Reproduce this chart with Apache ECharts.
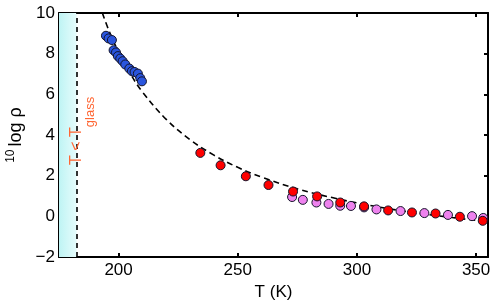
<!DOCTYPE html>
<html><head><meta charset="utf-8">
<script src="https://cdn.jsdelivr.net/npm/echarts@6/dist/echarts.min.js"></script>
<style>html,body{margin:0;padding:0;background:#fff}#c{width:498px;height:304px}</style>
</head><body><div id="c"></div>
<script>
// ---- data ----
const xTicks = [200, 250, 300, 350];
const yTicks = [-2, 0, 2, 4, 6, 8, 10];
const xRange = [175, 355];
const yRange = [-2, 10];
const glassT = 182.4;

const blueT = [194.7, 195.8, 197.2, 197.9, 198.9, 199.7, 200.7, 201.7, 202.8, 204.5, 205.6, 206.7, 208.1, 209.1, 209.8];
const blueV = [8.88, 8.75, 8.67, 8.17, 8.06, 7.88, 7.76, 7.63, 7.47, 7.27, 7.14, 7.10, 7.02, 6.80, 6.64];

const pinkT = [272.8, 277.3, 283.0, 288.1, 293.0, 297.5, 303.0, 308.2, 318.3, 328.3, 338.2, 348.3, 353.0];
const pinkV = [0.95, 0.81, 0.68, 0.61, 0.52, 0.51, 0.44, 0.34, 0.26, 0.16, 0.07, 0.01, -0.08];

const redT = [234.3, 242.8, 253.4, 262.9, 273.2, 283.3, 293.0, 303.0, 313.1, 323.1, 333.0, 343.2, 352.8];
const redV = [3.12, 2.51, 1.97, 1.54, 1.22, 0.98, 0.68, 0.49, 0.29, 0.19, 0.14, -0.02, -0.22];

const fitT = [193.2, 196, 200, 205, 210, 220, 230, 240, 250, 260, 275, 290, 305, 320, 340, 355];
const fitV = [10.0, 9.12, 8.08, 7.00, 6.12, 4.77, 3.77, 3.01, 2.41, 1.93, 1.35, 0.91, 0.55, 0.25, -0.06, -0.26];

// ---- chart ----
const FONT = 'Liberation Sans';
const zip = (a, b) => a.map((v, i) => [v, b[i]]);
const chart = echarts.init(document.getElementById('c'), null, {renderer: 'canvas'});

const axisLineStyle = {color: '#000', width: 2};
const tickStyle = {show: true, inside: true, length: 4, lineStyle: {color: '#000', width: 2}};
const markerStyle = c => ({color: c, borderColor: '#14142a', borderWidth: 1, opacity: 1});

chart.setOption({
  animation: false,
  backgroundColor: '#fff',
  grid: {left: 59, right: 10, top: 13, bottom: 47, show: false, containLabel: false, outerBoundsMode: 'none'},
  xAxis: [
    {type: 'value', min: xRange[0], max: xRange[1], position: 'bottom',
     axisLine: {show: true, onZero: false, lineStyle: axisLineStyle},
     axisTick: Object.assign({customValues: xTicks}, tickStyle),
     axisLabel: {customValues: xTicks, color: '#000', fontSize: 17, fontFamily: FONT, margin: 5},
     splitLine: {show: false},
     name: 'T (K)', nameLocation: 'middle', nameGap: 20,
     nameTextStyle: {color: '#000', fontSize: 17, fontFamily: FONT}},
    {type: 'value', min: xRange[0], max: xRange[1], position: 'top',
     axisLine: {show: true, onZero: false, lineStyle: axisLineStyle},
     axisTick: Object.assign({customValues: xTicks}, tickStyle),
     axisLabel: {show: false}, splitLine: {show: false}}
  ],
  yAxis: [
    {type: 'value', min: yRange[0], max: yRange[1], interval: 2, position: 'left',
     axisLine: {show: true, onZero: false, lineStyle: axisLineStyle},
     axisTick: Object.assign({customValues: yTicks}, tickStyle),
     axisLabel: {customValues: yTicks, color: '#000', fontSize: 17, fontFamily: FONT, margin: 4,
                 formatter: v => (v < 0 ? '\u2212' + Math.abs(v) : String(v))},
     splitLine: {show: false},
     name: '{sup|10}{m|log \u03c1}', nameLocation: 'middle', nameGap: 26, nameRotate: 90,
     nameTextStyle: {color: '#000', fontFamily: FONT,
       rich: {sup: {fontSize: 12, fontFamily: FONT, color: '#000', verticalAlign: 'top', padding: [0, 3, 8, 0]},
              m: {fontSize: 18, fontFamily: FONT, color: '#000', verticalAlign: 'bottom'}}}},
    {type: 'value', min: yRange[0], max: yRange[1], interval: 2, position: 'right',
     axisLine: {show: true, onZero: false, lineStyle: axisLineStyle},
     axisTick: Object.assign({customValues: yTicks}, tickStyle),
     axisLabel: {show: false}, splitLine: {show: false}}
  ],
  series: [
    {type: 'line', name: 'band', data: [],
     markArea: {silent: true, itemStyle: {color: new echarts.graphic.LinearGradient(0, 0, 1, 0, [
        {offset: 0, color: '#bff4f4'}, {offset: 1, color: '#e6fcfc'}])},
       data: [[{xAxis: xRange[0]}, {xAxis: glassT}]]},
     markLine: {silent: true, symbol: 'none', label: {show: false},
       lineStyle: {color: '#000', type: [5, 4], width: 1.6},
       data: [{xAxis: glassT}]}},
    {type: 'line', name: 'fit', data: zip(fitT, fitV), smooth: 0.4, showSymbol: false, symbol: 'none',
     lineStyle: {color: '#000', width: 1.6, type: [6, 4]}, z: 3},
    {type: 'scatter', name: 'blue', data: zip(blueT, blueV), symbolSize: 9, itemStyle: markerStyle('#2a55dd'), z: 4},
    {type: 'scatter', name: 'pink', data: zip(pinkT, pinkV), symbolSize: 9, itemStyle: markerStyle('#ee82ee'), z: 4},
    {type: 'scatter', name: 'red', data: zip(redT, redV), symbolSize: 9, itemStyle: markerStyle('#ff0000'), z: 5}
  ]
});

// annotation T < T_glass placed via the chart's own scale
const p = chart.convertToPixel({xAxisIndex: 0, yAxisIndex: 0}, [glassT, 4.2]);
chart.setOption({
  graphic: [{
    type: 'text', x: p[0] + 20, y: p[1], rotation: Math.PI / 2, z: 10,
    style: {text: '{a|T < T}{b|glass}', align: 'center', verticalAlign: 'bottom',
      rich: {a: {fontSize: 16, fontFamily: FONT, fill: '#ff6633', verticalAlign: 'top'},
             b: {fontSize: 13, fontFamily: FONT, fill: '#ff6633', verticalAlign: 'bottom', padding: [15, 0, 0, 0]}}}
  }]
});
</script>
</body></html>
